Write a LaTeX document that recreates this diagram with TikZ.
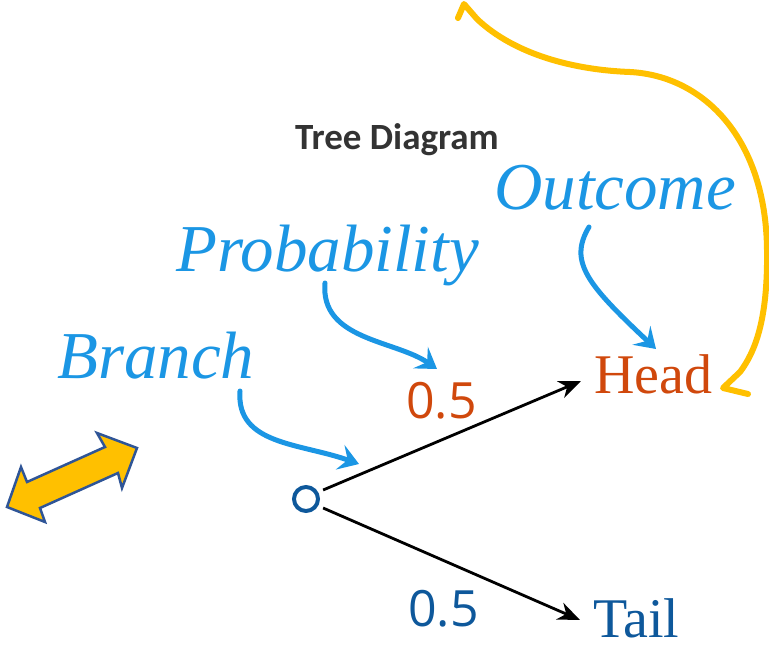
\documentclass[tikz,border=0pt]{standalone}
\usepackage{fontspec}
\setmainfont{Liberation Serif}
\newfontfamily\titlefont{Carlito}
\newfontfamily\numfont{Open Sans}
\usetikzlibrary{arrows.meta}
\definecolor{lblue}{RGB}{27,150,228}
\definecolor{dblue}{RGB}{14,88,155}
\definecolor{hred}{RGB}{208,72,12}
\definecolor{gold}{RGB}{255,192,0}
\definecolor{outl}{RGB}{47,85,151}
\definecolor{tgray}{RGB}{51,51,51}
\begin{document}
\begin{tikzpicture}[x=1pt,y=-1pt,
  lbl/.style={anchor=base west,inner sep=0pt,text=lblue,font=\fontsize{67}{70}\selectfont\itshape},
  outc/.style={anchor=base west,inner sep=0pt,font=\fontsize{56}{60}\selectfont},
  prob/.style={anchor=base west,inner sep=0pt,font=\numfont\fontsize{50}{52}\selectfont},
  callout/.style={draw=lblue,line width=5pt,line cap=round,-{Stealth[length=20pt,width=26pt,inset=8pt]}},
  branchline/.style={draw=black,line width=2.8pt,-{Stealth[length=22pt,width=18pt,inset=7pt]}},
  loopline/.style={draw=gold,line width=6pt,line cap=round,line join=round}]
\useasboundingbox (0,0) rectangle (769,650);

% title
\node[anchor=base,inner sep=0pt,text=tgray,font=\titlefont\bfseries\fontsize{37}{40}\selectfont] (title) at (397,150) {Tree Diagram};

% labels
\node[lbl] (outcome) at (494,210) {Outcome};
\node[lbl] (probability) at (176,271) {Probability};
\node[lbl] (branch) at (57,378) {Branch};

% outcomes and probabilities
\node[outc,text=hred] (head) at (594,393) {Head};
\node[outc,text=dblue] (tail) at (593,637) {Tail};
\node[prob,text=hred] (p1) at (406,418) {0.5};
\node[prob,text=dblue] (p2) at (408,626) {0.5};

% root
\node[circle,draw=dblue,line width=4pt,minimum size=24pt,inner sep=0pt] (root) at (306,499) {};

% branch connectors
\coordinate (headin) at (581,381);
\coordinate (tailin) at (580,620);
\draw[branchline] (root.30) ++(5,-2) coordinate (r1) (r1) -- (headin);
\draw[branchline] (root.-30) ++(5,2) coordinate (r2) (r2) -- (tailin);

% blue callouts
\coordinate (bstart) at (240,391);
\coordinate (bend) at (359,464);
\coordinate (pstart) at (325,283);
\coordinate (pend) at (437,369);
\coordinate (ostart) at (589,227);
\coordinate (oend) at (656,349);
\draw[callout] (bstart) .. controls (236,445) and (300,443) .. (bend);
\draw[callout] (pstart) .. controls (320,340) and (395,340) .. (pend);
\draw[callout] (ostart) .. controls (568,262) and (588,285) .. (oend);

% gold loop
\coordinate (ltip) at (464,4);
\coordinate (lend) at (748,394);
\draw[loopline] (458,18) -- (ltip) -- (477,19)
  .. controls (515,55) and (575,70) .. (630,72)
  .. controls (705,76) and (766,140) .. (767,250)
  .. controls (768,320) and (755,352) .. (740,372)
  -- (723,388) -- (lend);

% double arrow
\draw[draw=outl,fill=gold,line width=2.5pt,line join=miter]
  (7,507) -- (21,467) -- (27,482) -- (105,447) -- (97,433) -- (137,448)
  -- (122,488) -- (118,473) -- (40,508) -- (45,522) -- cycle;
\end{tikzpicture}
\end{document}
